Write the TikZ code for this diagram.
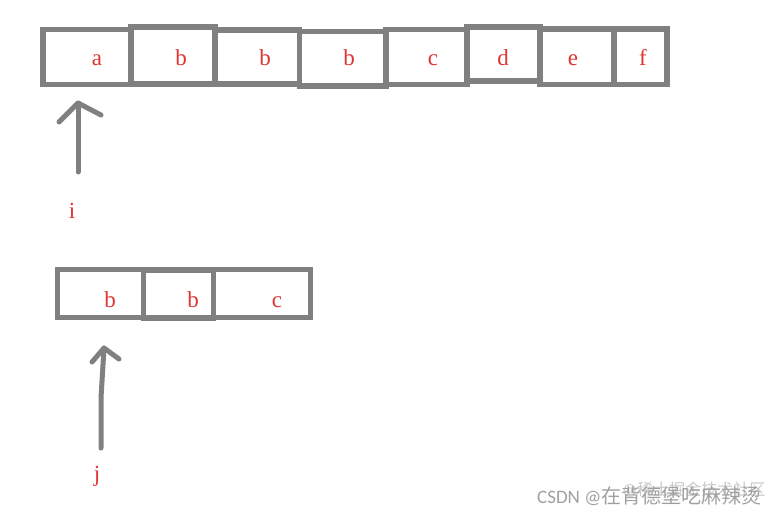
\documentclass[tikz,border=0pt]{standalone}
\usepackage{fontspec}
\setmainfont{Liberation Serif}
\newfontfamily\wmfont{Carlito}
\newfontfamily\cjkfont{Noto Sans CJK SC}
\definecolor{cellgray}{RGB}{128,128,128}
\definecolor{labelred}{RGB}{222,52,52}
\definecolor{wmgray}{RGB}{160,160,160}
\definecolor{wmlight}{RGB}{200,200,200}
\begin{document}
\begin{tikzpicture}[x=1pt,y=-1pt,
  cell/.style={draw=cellgray,line width=5.5pt,inner sep=0pt,outer sep=0pt},
  lab/.style={text=labelred,font=\fontsize{23}{23}\selectfont,inner sep=0pt,anchor=base},
  ptr/.style={draw=cellgray,line width=5pt,line cap=round,line join=round}]
\useasboundingbox (0,0) rectangle (783,517);
% top array
\node[cell,minimum width=88pt,minimum height=55pt] (ta) at (87,57) {};
\node[cell,minimum width=84pt,minimum height=57pt] (tb1) at (173,55.5) {};
\node[cell,minimum width=84.5pt,minimum height=54pt] (tb2) at (257.25,57) {};
\node[cell,minimum width=86.5pt,minimum height=54.5pt] (tb3) at (342.75,58.75) {};
\node[cell,minimum width=81pt,minimum height=55pt] (tc) at (426.5,57) {};
\node[cell,minimum width=73pt,minimum height=54pt] (td) at (503.5,54) {};
\node[cell,minimum width=74pt,minimum height=55.5pt] (te) at (577,56.75) {};
\node[cell,minimum width=53pt,minimum height=55.5pt] (tf) at (640.5,56.75) {};
\node[lab] (la) at (97,65) {a};
\node[lab] (lb1) at (181,65) {b};
\node[lab] (lb2) at (265,65) {b};
\node[lab] (lb3) at (349,65) {b};
\node[lab] (lc) at (433,65) {c};
\node[lab] (ld) at (503,65) {d};
\node[lab] (le) at (573,65) {e};
\node[lab] (lf) at (643,65) {f};
% pointer i
\node[lab] (li) at (72,218) {i};
\coordinate (itail) at (78,172);
\coordinate (itip) at (78,103);
\coordinate (ileft) at (59,122);
\coordinate (iright) at (101,115);
\draw[ptr] (itail) -- (itip);
\draw[ptr] (ileft) -- (itip) -- (iright);
% bottom array
\node[cell,minimum width=86pt,minimum height=48pt] (bb1) at (100.5,293.5) {};
\node[cell,minimum width=70pt,minimum height=48pt] (bb2) at (178.5,294) {};
\node[cell,minimum width=97pt,minimum height=48pt] (bc) at (262,293.5) {};
\node[lab] (mb1) at (110,307) {b};
\node[lab] (mb2) at (193,307) {b};
\node[lab] (mc) at (277,307) {c};
% pointer j
\node[lab] (lj) at (97,481) {j};
\coordinate (jtail) at (101,448);
\coordinate (jtip) at (104,348);
\coordinate (jleft) at (92,362);
\coordinate (jright) at (119,359);
\draw[ptr] (jtail) -- (101,398) -- (jtip);
\draw[ptr] (jleft) -- (jtip) -- (jright);
% watermark
\node[text=wmlight,inner sep=0pt,anchor=base west] (wm2) at (622,495) {\wmfont\fontsize{17}{17}\selectfont @\cjkfont\fontsize{16}{16}\selectfont 稀土掘金技术社区};
\node[text=wmgray,inner sep=0pt,anchor=base west] (wm1) at (537,503) {\wmfont\fontsize{19}{19}\selectfont CSDN @\cjkfont\fontsize{20}{20}\selectfont 在背德堡吃麻辣烫};
\end{tikzpicture}
\end{document}
